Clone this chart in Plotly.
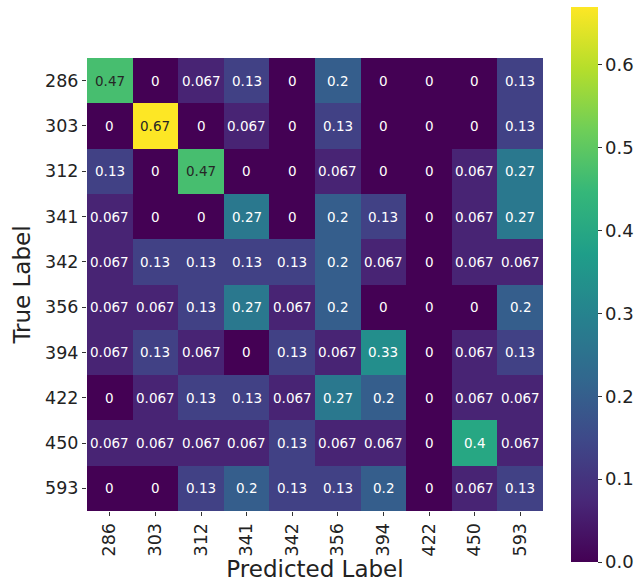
import plotly.graph_objects as go

labels = ["286", "303", "312", "341", "342", "356", "394", "422", "450", "593"]

row_286 = [0.47, 0, 0.067, 0.13, 0, 0.2, 0, 0, 0, 0.13]
row_303 = [0, 0.67, 0, 0.067, 0, 0.13, 0, 0, 0, 0.13]
row_312 = [0.13, 0, 0.47, 0, 0, 0.067, 0, 0, 0.067, 0.27]
row_341 = [0.067, 0, 0, 0.27, 0, 0.2, 0.13, 0, 0.067, 0.27]
row_342 = [0.067, 0.13, 0.13, 0.13, 0.13, 0.2, 0.067, 0, 0.067, 0.067]
row_356 = [0.067, 0.067, 0.13, 0.27, 0.067, 0.2, 0, 0, 0, 0.2]
row_394 = [0.067, 0.13, 0.067, 0, 0.13, 0.067, 0.33, 0, 0.067, 0.13]
row_422 = [0, 0.067, 0.13, 0.13, 0.067, 0.27, 0.2, 0, 0.067, 0.067]
row_450 = [0.067, 0.067, 0.067, 0.067, 0.13, 0.067, 0.067, 0, 0.4, 0.067]
row_593 = [0, 0, 0.13, 0.2, 0.13, 0.13, 0.2, 0, 0.067, 0.13]

z = [row_286, row_303, row_312, row_341, row_342, row_356, row_394, row_422, row_450, row_593]
zmax = max(max(r) for r in z)
idx = list(range(len(labels)))

font_family = "DejaVu Sans"

fig = go.Figure()
fig.add_trace(go.Heatmap(
    z=z, x=idx, y=idx,
    colorscale="Viridis", zmin=0, zmax=zmax,
    hoverinfo="skip",
    colorbar=dict(
        thickness=27, thicknessmode="pixels",
        len=555, lenmode="pixels",
        x=1.061, xanchor="left", xpad=0,
        y=0.5, yanchor="middle", ypad=0,
        outlinewidth=0,
        tickvals=[0, 0.1, 0.2, 0.3, 0.4, 0.5, 0.6],
        ticktext=["0.0", "0.1", "0.2", "0.3", "0.4", "0.5", "0.6"],
        ticks="outside", ticklen=4, tickwidth=1, tickcolor="#333",
        tickfont=dict(family=font_family, size=18, color="#222"),
    ),
))

annotations = []
for i, row in enumerate(z):
    for j, v in enumerate(row):
        txt = "0" if v == 0 else ("%g" % v)
        color = "#262626" if v / zmax > 0.6 else "#ffffff"
        annotations.append(dict(
            x=j, y=i, text=txt, showarrow=False,
            font=dict(family=font_family, size=13.5, color=color),
            xref="x", yref="y",
        ))

fig.update_layout(
    width=638, height=585,
    margin=dict(l=87, r=95, t=58, b=74, autoexpand=False),
    paper_bgcolor="white", plot_bgcolor="white",
    font=dict(family=font_family, color="#222"),
    annotations=annotations,
    xaxis=dict(
        range=[-0.5, 9.5], tickvals=idx, ticktext=labels,
        tickangle=-90, ticks="outside", ticklen=4,
        tickcolor="#333", showgrid=False, zeroline=False, showline=False,
        tickfont=dict(family=font_family, size=17.5, color="#222"),
        title=dict(text="Predicted Label", font=dict(family=font_family, size=23, color="#222"), standoff=5),
        automargin=False,
    ),
    yaxis=dict(
        range=[9.5, -0.5], tickvals=idx, ticktext=labels,
        ticks="outside", ticklen=4,
        tickcolor="#333", showgrid=False, zeroline=False, showline=False,
        tickfont=dict(family=font_family, size=17.5, color="#222"),
        title=dict(text="True Label", font=dict(family=font_family, size=23, color="#222"), standoff=8),
        automargin=False,
    ),
)

fig.write_html(
    "out.html",
    config={"displayModeBar": False},
    post_script="document.body.style.margin='0';document.body.style.overflow='hidden';",
)
